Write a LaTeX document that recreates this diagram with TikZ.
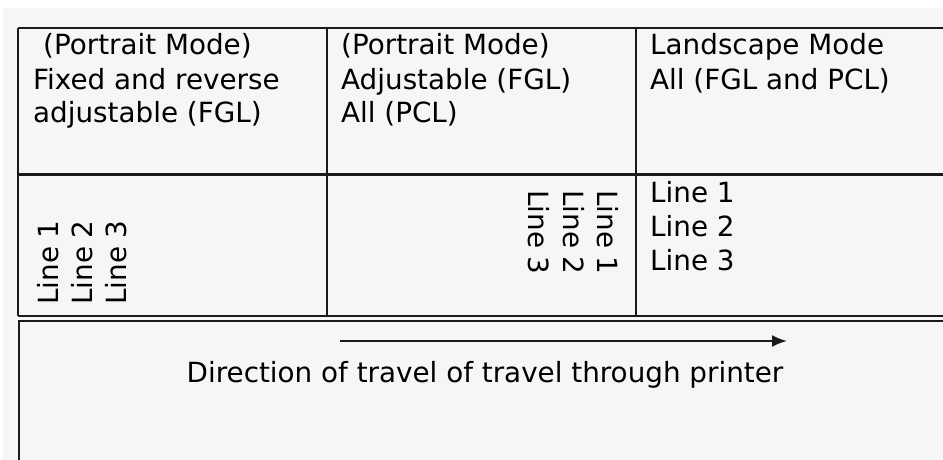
\documentclass[tikz,border=0pt]{standalone}
\usepackage{fontspec}
\setmainfont{DejaVu Sans}
\usetikzlibrary{arrows.meta}
\definecolor{pagegrey}{HTML}{F6F6F6}
\definecolor{rulegrey}{HTML}{1A1A1A}
\begin{document}
\begin{tikzpicture}[x=1pt, y=-1pt]
    % Styles
    \tikzset{
        rule/.style={draw=rulegrey, line width=1.5pt},
        head text/.style={anchor=base west, inner sep=0pt, font=\fontsize{27.8}{33.5}\selectfont},
        up text/.style={head text, rotate=90},
        down text/.style={head text, rotate=-90}
    }
    \clip (0,0) rectangle (943,460);
    \fill[pagegrey] (3,8) rectangle (943,460);

    % Grid corners (rows a, b, c; columns 0 to 3)
    \coordinate (a0) at (18,28);
    \coordinate (a1) at (327,28);
    \coordinate (a2) at (636,28);
    \coordinate (a3) at (960,28);
    \coordinate (b0) at (18,174);
    \coordinate (b3) at (960,174);
    \coordinate (c0) at (18,316);
    \coordinate (c1) at (327,316);
    \coordinate (c2) at (636,316);
    \coordinate (c3) at (960,316);
    % Lower box
    \coordinate (d0) at (19,321);
    \coordinate (d3) at (960,321);
    \coordinate (e0) at (19,480);

    % Table rules
    \draw[rule] (a0) -- (a3);
    \draw[rule, line width=3pt] (b0) -- (b3);
    \draw[rule] (c0) -- (c3);
    \draw[rule] (a0) -- (c0);
    \draw[rule] (a1) -- (c1);
    \draw[rule] (a2) -- (c2);
    \draw[rule] (d3) -- (d0) -- (e0);

    % Header row
    \node[head text] (h1a) at (43,55) {(Portrait Mode)};
    \node[head text] (h1b) at (33,89) {Fixed and reverse};
    \node[head text] (h1c) at (33,122) {adjustable (FGL)};
    \node[head text] (h2a) at (341,55) {(Portrait Mode)};
    \node[head text] (h2b) at (341,89) {Adjustable (FGL)};
    \node[head text] (h2c) at (341,122) {All (PCL)};
    \node[head text] (h3a) at (650,55) {Landscape Mode};
    \node[head text] (h3b) at (650,89) {All (FGL and PCL)};

    % Portrait, fixed and reverse
    \node[up text] (l1a) at (58,305) {Line 1};
    \node[up text] (l1b) at (92,305) {Line 2};
    \node[up text] (l1c) at (126,305) {Line 3};

    % Portrait, adjustable
    \node[down text] (l2a) at (597,190) {Line 1};
    \node[down text] (l2b) at (563,190) {Line 2};
    \node[down text] (l2c) at (528,190) {Line 3};

    % Landscape
    \node[head text] (l3a) at (650,202) {Line 1};
    \node[head text] (l3b) at (650,236) {Line 2};
    \node[head text] (l3c) at (650,270) {Line 3};

    % Direction of travel
    \coordinate (travelstart) at (340,341);
    \coordinate (travelend) at (787,341);
    \draw[rule, line width=2pt, -{Latex[length=15pt, width=12pt]}] (travelstart) -- (travelend);
    \node[head text, anchor=base] (travel) at (485,382) {Direction of travel of travel through printer};
\end{tikzpicture}
\end{document}
